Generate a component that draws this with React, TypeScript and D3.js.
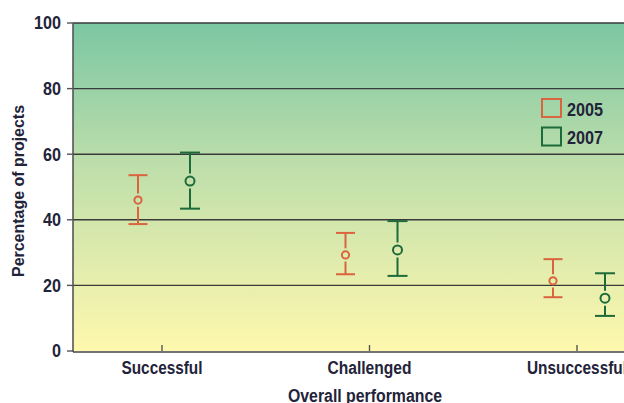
import React from "react";
import * as d3 from "d3";

const categories = ["Successful", "Challenged", "Unsuccessful"];
const series = ["2005", "2007"];
const mid2005 = [46, 29.3, 21.4];
const low2005 = [38.7, 23.4, 16.4];
const high2005 = [53.6, 36, 28];
const mid2007 = [51.8, 30.8, 16.1];
const low2007 = [43.4, 22.9, 10.7];
const high2007 = [60.5, 39.6, 23.7];
const yTicks = [0, 20, 40, 60, 80, 100];

const colors: Record<string, string> = { "2005": "#d9643f", "2007": "#1d6a3a" };
const font = "'Liberation Sans', Arial, sans-serif";
const textColor = "#23233a";

// approximate condensed widths (px per character)
function condensedLen(s: string, size: number) {
  return s.length * size * 0.47;
}

export default function App() {
  const W = 624, H = 403;
  const left = 73, right = 660, top = 23, bottom = 351;
  const y = d3.scaleLinear().domain([0, 100]).range([bottom, top]);
  const x = d3.scalePoint<string>().domain(categories).range([162, 577]);
  const off = d3.scalePoint<string>().domain(series).range([-24, 28]);
  const data: Record<string, { mid: number[]; low: number[]; high: number[] }> = {
    "2005": { mid: mid2005, low: low2005, high: high2005 },
    "2007": { mid: mid2007, low: low2007, high: high2007 },
  };
  return (
    <svg width={W} height={H} style={{ position: "absolute", left: 0, top: 0 }} fontFamily={font}>
      <defs>
        <linearGradient id="bg" x1="0" y1="0" x2="0" y2="1">
          <stop offset="0" stopColor="#7bc7a3" />
          <stop offset="0.45" stopColor="#c0dfab" />
          <stop offset="1" stopColor="#fff8ae" />
        </linearGradient>
      </defs>
      <rect x={left} y={top} width={right - left} height={bottom - top} fill="url(#bg)" />
      {yTicks.map((t) => (
        <g key={t}>
          {t > 0 && <line x1={left} x2={right} y1={y(t)} y2={y(t)} stroke="#3a3a3a" strokeWidth={1.4} />}
          <line x1={left - 6} x2={left} y1={y(t)} y2={y(t)} stroke="#555" strokeWidth={1.4} />
          <text x={left - 12} y={y(t)} dy="0.36em" textAnchor="end" fontSize={18} fontWeight="bold" fill={textColor}
            textLength={String(t).length * 9} lengthAdjust="spacingAndGlyphs">{t}</text>
        </g>
      ))}
      <line x1={left} x2={left} y1={top} y2={bottom + 1} stroke="#555" strokeWidth={1.6} />
      <line x1={left} x2={right} y1={bottom + 1} y2={bottom + 1} stroke="#444" strokeWidth={1.6} />
      {categories.map((c) => (
        <g key={c}>
          <line x1={x(c)!} x2={x(c)!} y1={bottom - 6} y2={bottom} stroke="#555" strokeWidth={1.4} />
          <text x={x(c)!} y={374} textAnchor="middle" fontSize={18} fontWeight="bold" fill={textColor}
            textLength={c === "Challenged" ? 84 : c === "Successful" ? 81 : 100} lengthAdjust="spacingAndGlyphs">{c}</text>
        </g>
      ))}
      <text x={365} y={402} textAnchor="middle" fontSize={18} fontWeight="bold" fill={textColor}
        textLength={154} lengthAdjust="spacingAndGlyphs">Overall performance</text>
      <text transform={`translate(24,191) rotate(-90)`} textAnchor="middle" fontSize={16} fontWeight="bold" fill={textColor}
        textLength={172} lengthAdjust="spacingAndGlyphs">Percentage of projects</text>
      {series.map((s) =>
        categories.map((c, i) => {
          const cx = x(c)! + off(s)!;
          const d = data[s];
          const col = colors[s];
          const capW = s === "2005" ? 9.5 : 10;
          const r = s === "2005" ? 3.6 : 4.5;
          return (
            <g key={s + c} stroke={col} strokeWidth={2} fill="none">
              <line x1={cx - capW} x2={cx + capW} y1={y(d.high[i])} y2={y(d.high[i])} />
              <line x1={cx} x2={cx} y1={y(d.high[i])} y2={y(d.mid[i]) - r - 3} />
              <circle cx={cx} cy={y(d.mid[i])} r={r} />
              <line x1={cx} x2={cx} y1={y(d.mid[i]) + r + 3} y2={y(d.low[i])} />
              <line x1={cx - capW} x2={cx + capW} y1={y(d.low[i])} y2={y(d.low[i])} />
            </g>
          );
        })
      )}
      {series.map((s, i) => (
        <g key={s}>
          <rect x={542} y={99 + i * 28.5} width={19} height={18} fill="none" stroke={colors[s]} strokeWidth={2} />
          <text x={567} y={116 + i * 27.5} fontSize={18} fontWeight="bold" fill={textColor}
            textLength={36} lengthAdjust="spacingAndGlyphs">{s}</text>
        </g>
      ))}
    </svg>
  );
}
